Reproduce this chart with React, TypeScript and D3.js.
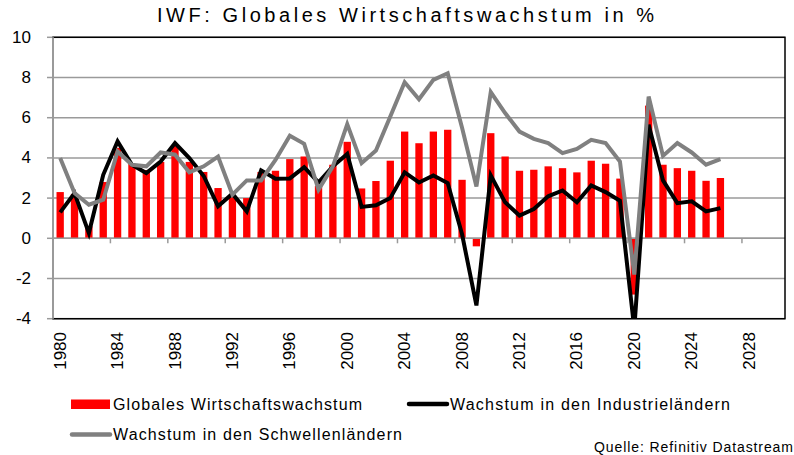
import React from "react";
import * as d3 from "d3";

const years: number[] = d3.range(1980, 2027);
const globalGrowth: number[] = [
  2.3, 2.2, 0.6, 2.8, 4.5, 3.7, 3.4, 3.8, 4.6, 3.8,
  3.3, 2.5, 2.1, 2.0, 3.3, 3.36, 3.94, 4.07, 2.6, 3.66,
  4.8, 2.48, 2.85, 3.86, 5.31, 4.73, 5.31, 5.4, 2.91, -0.4,
  5.23, 4.07, 3.36, 3.41, 3.58, 3.49, 3.28, 3.86, 3.71, 2.97,
  -2.8, 6.6, 3.66, 3.49, 3.36, 2.86, 3.0,
];
const industrial: number[] = [
  1.29, 2.25, 0.26, 3.16, 4.82, 3.66, 3.25, 3.82, 4.74, 3.99,
  3.1, 1.59, 2.22, 1.34, 3.38, 2.96, 2.98, 3.54, 2.78, 3.58,
  4.2, 1.56, 1.64, 2.0, 3.28, 2.78, 3.13, 2.75, 0.2, -3.34,
  3.13, 1.79, 1.13, 1.46, 2.09, 2.38, 1.79, 2.63, 2.3, 1.87,
  -4.5, 5.65, 2.88, 1.75, 1.84, 1.34, 1.5,
];
const emerging: number[] = [
  3.99, 2.25, 1.67, 1.92, 4.32, 3.66, 3.58, 4.27, 4.16, 3.28,
  3.58, 4.07, 2.17, 2.88, 2.88, 3.9, 5.1, 4.7, 2.42, 3.58,
  5.68, 3.74, 4.37, 6.06, 7.76, 6.92, 7.88, 8.21, 5.5, 2.58,
  7.27, 6.23, 5.31, 4.95, 4.74, 4.24, 4.45, 4.9, 4.74, 3.82,
  -1.8, 7.05, 4.1, 4.74, 4.27, 3.66, 3.94,
];
const axisYears: number[] = d3.range(1980, 2031);
const yTicks: number[] = [-4, -2, 0, 2, 4, 6, 8, 10];
const xLabelYears: number[] = d3.range(1980, 2029, 4);

const title = "IWF: Globales Wirtschaftswachstum in %";
const legendBars = "Globales Wirtschaftswachstum";
const legendIndustrial = "Wachstum in den Industrieländern";
const legendEmerging = "Wachstum in den Schwellenländern";
const source = "Quelle: Refinitiv Datastream";

export default function App() {
  const W = 794, H = 455;
  const left = 53, right = 785, top = 37.3, bottom = 318.7;
  const x = d3.scaleBand<number>().domain(axisYears).range([left, right]).padding(0);
  const y = d3.scaleLinear().domain([-4, 10]).range([bottom, top]);
  const bw = x.bandwidth();
  const cx = (yr: number) => (x(yr) as number) + bw / 2;
  const line = d3
    .line<number>()
    .x((_, i) => cx(years[i]))
    .y((v) => y(v));
  const font = "Arial, 'Liberation Sans', sans-serif";
  const barW = bw * 0.51;

  return (
    <svg width={W} height={H} style={{ position: "absolute", left: 0, top: 0 }} fontFamily={font}>
      <defs>
        <clipPath id="plotClip">
          <rect x={left} y={top} width={right - left} height={bottom - top} />
        </clipPath>
      </defs>
      <rect x={0} y={0} width={W} height={H} fill="#fff" />
      <text x={157} y={22} fontSize={20} textLength={497} lengthAdjust="spacing" fill="#000">
        {title}
      </text>
      {yTicks.map((t) => (
        <line key={"g" + t} x1={left} x2={right} y1={y(t)} y2={y(t)} stroke="#9a9a9a" strokeWidth={1.5} />
      ))}
      {yTicks.map((t) => (
        <g key={"yt" + t}>
          <line x1={left - 6} x2={left} y1={y(t)} y2={y(t)} stroke="#9a9a9a" strokeWidth={1.5} />
          <text x={31} y={y(t)} fontSize={17} textAnchor="end" dominantBaseline="central" fill="#000">
            {t}
          </text>
        </g>
      ))}
      {years.map((yr, i) => {
        const v = globalGrowth[i];
        return (
          <rect
            key={"b" + yr}
            x={cx(yr) - barW / 2}
            y={y(Math.max(0, v))}
            width={barW}
            height={Math.abs(y(v) - y(0))}
            fill="#ff0000"
          />
        );
      })}
      <line x1={left} x2={right} y1={y(0)} y2={y(0)} stroke="#9a9a9a" strokeWidth={1.5} />
      {xLabelYears.slice(1).map((yr) => (
        <line key={"xt" + yr} x1={x(yr) as number} x2={x(yr) as number} y1={y(0)} y2={y(0) + 5} stroke="#9a9a9a" strokeWidth={1.5} />
      ))}
      <g clipPath="url(#plotClip)">
        <path d={line(industrial) || ""} fill="none" stroke="#000" strokeWidth={4} strokeLinejoin="miter" />
        <path d={line(emerging) || ""} fill="none" stroke="#808080" strokeWidth={4} strokeLinejoin="miter" />
      </g>
      <rect x={left} y={top} width={right - left} height={bottom - top} fill="none" stroke="#000" strokeWidth={1.5} />
      <line x1={left} x2={left} y1={top} y2={bottom} stroke="#9a9a9a" strokeWidth={2} />
      {xLabelYears.map((yr) => (
        <text
          key={"xl" + yr}
          transform={`translate(${cx(yr)},332) rotate(-90)`}
          fontSize={17}
          textAnchor="end"
          dominantBaseline="central"
          fill="#000"
        >
          {yr}
        </text>
      ))}
      <rect x={71} y={399.5} width={39} height={9.5} fill="#ff0000" />
      <text x={113} y={409.5} fontSize={16} textLength={249} lengthAdjust="spacing" fill="#000">
        {legendBars}
      </text>
      <line x1={409} x2={447} y1={404} y2={404} stroke="#000" strokeWidth={4.5} strokeLinecap="round" />
      <text x={450} y={409.5} fontSize={16} textLength={280} lengthAdjust="spacing" fill="#000">
        {legendIndustrial}
      </text>
      <line x1={72} x2={110} y1={434.5} y2={434.5} stroke="#808080" strokeWidth={4.5} strokeLinecap="round" />
      <text x={113} y={440} fontSize={16} textLength={289} lengthAdjust="spacing" fill="#000">
        {legendEmerging}
      </text>
      <text x={594} y={452} fontSize={14} textLength={199} lengthAdjust="spacing" fill="#000">
        {source}
      </text>
    </svg>
  );
}
